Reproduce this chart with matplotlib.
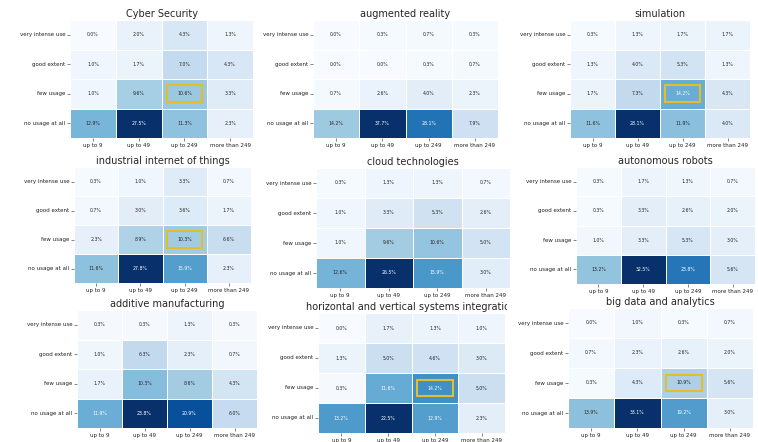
import numpy as np
import matplotlib
matplotlib.use("Agg")
import matplotlib.pyplot as plt
import matplotlib.transforms as mtransforms
from matplotlib.patches import Rectangle
import seaborn as sns

usage_levels = ["very intense use", "good extent", "few usage", "no usage at all"]
company_sizes = ["up to 9", "up to 49", "up to 249", "more than 249"]

cyber_security = [[0.0, 2.0, 4.3, 1.3],
                  [1.0, 1.7, 7.0, 4.3],
                  [1.0, 9.6, 10.6, 3.3],
                  [12.9, 27.5, 11.3, 2.3]]
augmented_reality = [[0.0, 0.3, 0.7, 0.3],
                     [0.0, 0.0, 0.3, 0.7],
                     [0.7, 2.6, 4.0, 2.3],
                     [14.2, 37.7, 28.1, 7.9]]
simulation = [[0.3, 1.3, 1.7, 1.7],
              [1.3, 4.0, 5.3, 1.3],
              [1.7, 7.3, 14.2, 4.3],
              [11.6, 28.1, 11.9, 4.0]]
industrial_iot = [[0.3, 1.0, 3.3, 0.7],
                  [0.7, 3.0, 3.6, 1.7],
                  [2.3, 8.9, 10.3, 6.6],
                  [11.6, 27.8, 15.9, 2.3]]
cloud_technologies = [[0.3, 1.3, 1.3, 0.7],
                      [1.0, 3.3, 5.3, 2.6],
                      [1.0, 9.6, 10.6, 5.0],
                      [12.6, 26.5, 15.9, 3.0]]
autonomous_robots = [[0.3, 1.7, 1.3, 0.7],
                     [0.3, 3.3, 2.6, 2.0],
                     [1.0, 3.3, 5.3, 3.0],
                     [13.2, 32.5, 23.8, 5.6]]
additive_manufacturing = [[0.3, 0.3, 1.3, 0.3],
                          [1.0, 6.3, 2.3, 0.7],
                          [1.7, 10.3, 8.6, 4.3],
                          [11.9, 23.8, 20.9, 6.0]]
systems_integration = [[0.0, 1.7, 1.3, 1.0],
                       [1.3, 5.0, 4.6, 3.0],
                       [0.3, 11.6, 14.2, 5.0],
                       [13.2, 22.5, 12.9, 2.3]]
big_data = [[0.0, 1.0, 0.3, 0.7],
            [0.7, 2.3, 2.6, 2.0],
            [0.3, 4.3, 10.9, 5.6],
            [13.9, 33.1, 19.2, 3.0]]

titles = ["Cyber Security", "augmented reality", "simulation",
          "industrial internet of things", "cloud technologies", "autonomous robots",
          "additive manufacturing", "horizontal and vertical systems integration",
          "big data and analytics"]
tables = [cyber_security, augmented_reality, simulation,
          industrial_iot, cloud_technologies, autonomous_robots,
          additive_manufacturing, systems_integration, big_data]
# (row, column) of the highlighted cell, or None
highlights = [(2, 2), None, (2, 2),
              (2, 2), None, None,
              None, (2, 2), (2, 2)]

W, H = 758, 442
# panel boxes in pixels: left, top, right, bottom
boxes = [(70, 20, 253, 138), (313, 20, 498, 138), (570, 20, 750, 138),
         (74, 167, 251, 283), (316, 168, 510, 288), (576, 167, 755, 284),
         (77, 310, 257, 428), (318, 313, 505, 433), (568, 308, 753, 428)]

fig = plt.figure(figsize=(W / 100, H / 100), dpi=100)
fig.patch.set_facecolor("white")

for title, table, hl, (l, t, r, b) in zip(titles, tables, highlights, boxes):
    ax = fig.add_axes([l / W, 1 - b / H, (r - l) / W, (b - t) / H])
    data = np.array(table)
    labels = np.array([[f"{v:.1f}%" for v in row] for row in table])
    sns.heatmap(data, ax=ax, cmap="Blues", vmin=0, vmax=data.max(),
                annot=labels, fmt="", cbar=False, linewidths=0.7, linecolor="white",
                annot_kws={"size": 3.3},
                xticklabels=company_sizes, yticklabels=usage_levels)
    ax.tick_params(axis="both", labelsize=4, length=2, width=0.5, pad=1.5,
                   color="#555555", labelcolor="#222222")
    plt.setp(ax.get_yticklabels(), rotation=0)
    plt.setp(ax.get_xticklabels(), rotation=0)
    ttl = ax.set_title(title, fontsize=7, color="#262626", pad=2.5)
    if title.startswith("horizontal"):
        clip = mtransforms.TransformedBbox(
            mtransforms.Bbox([[0, 0], [507 / W, 1]]), fig.transFigure)
        ttl.set_clip_box(clip)
        ttl.set_clip_on(True)
    if hl is not None:
        row, col = hl
        ax.add_patch(Rectangle((col + 0.11, row + 0.22), 0.78, 0.56,
                               fill=False, edgecolor="#e3bd2c", linewidth=1.5,
                               zorder=5))

fig.savefig("out.png", dpi=100, facecolor="white")
